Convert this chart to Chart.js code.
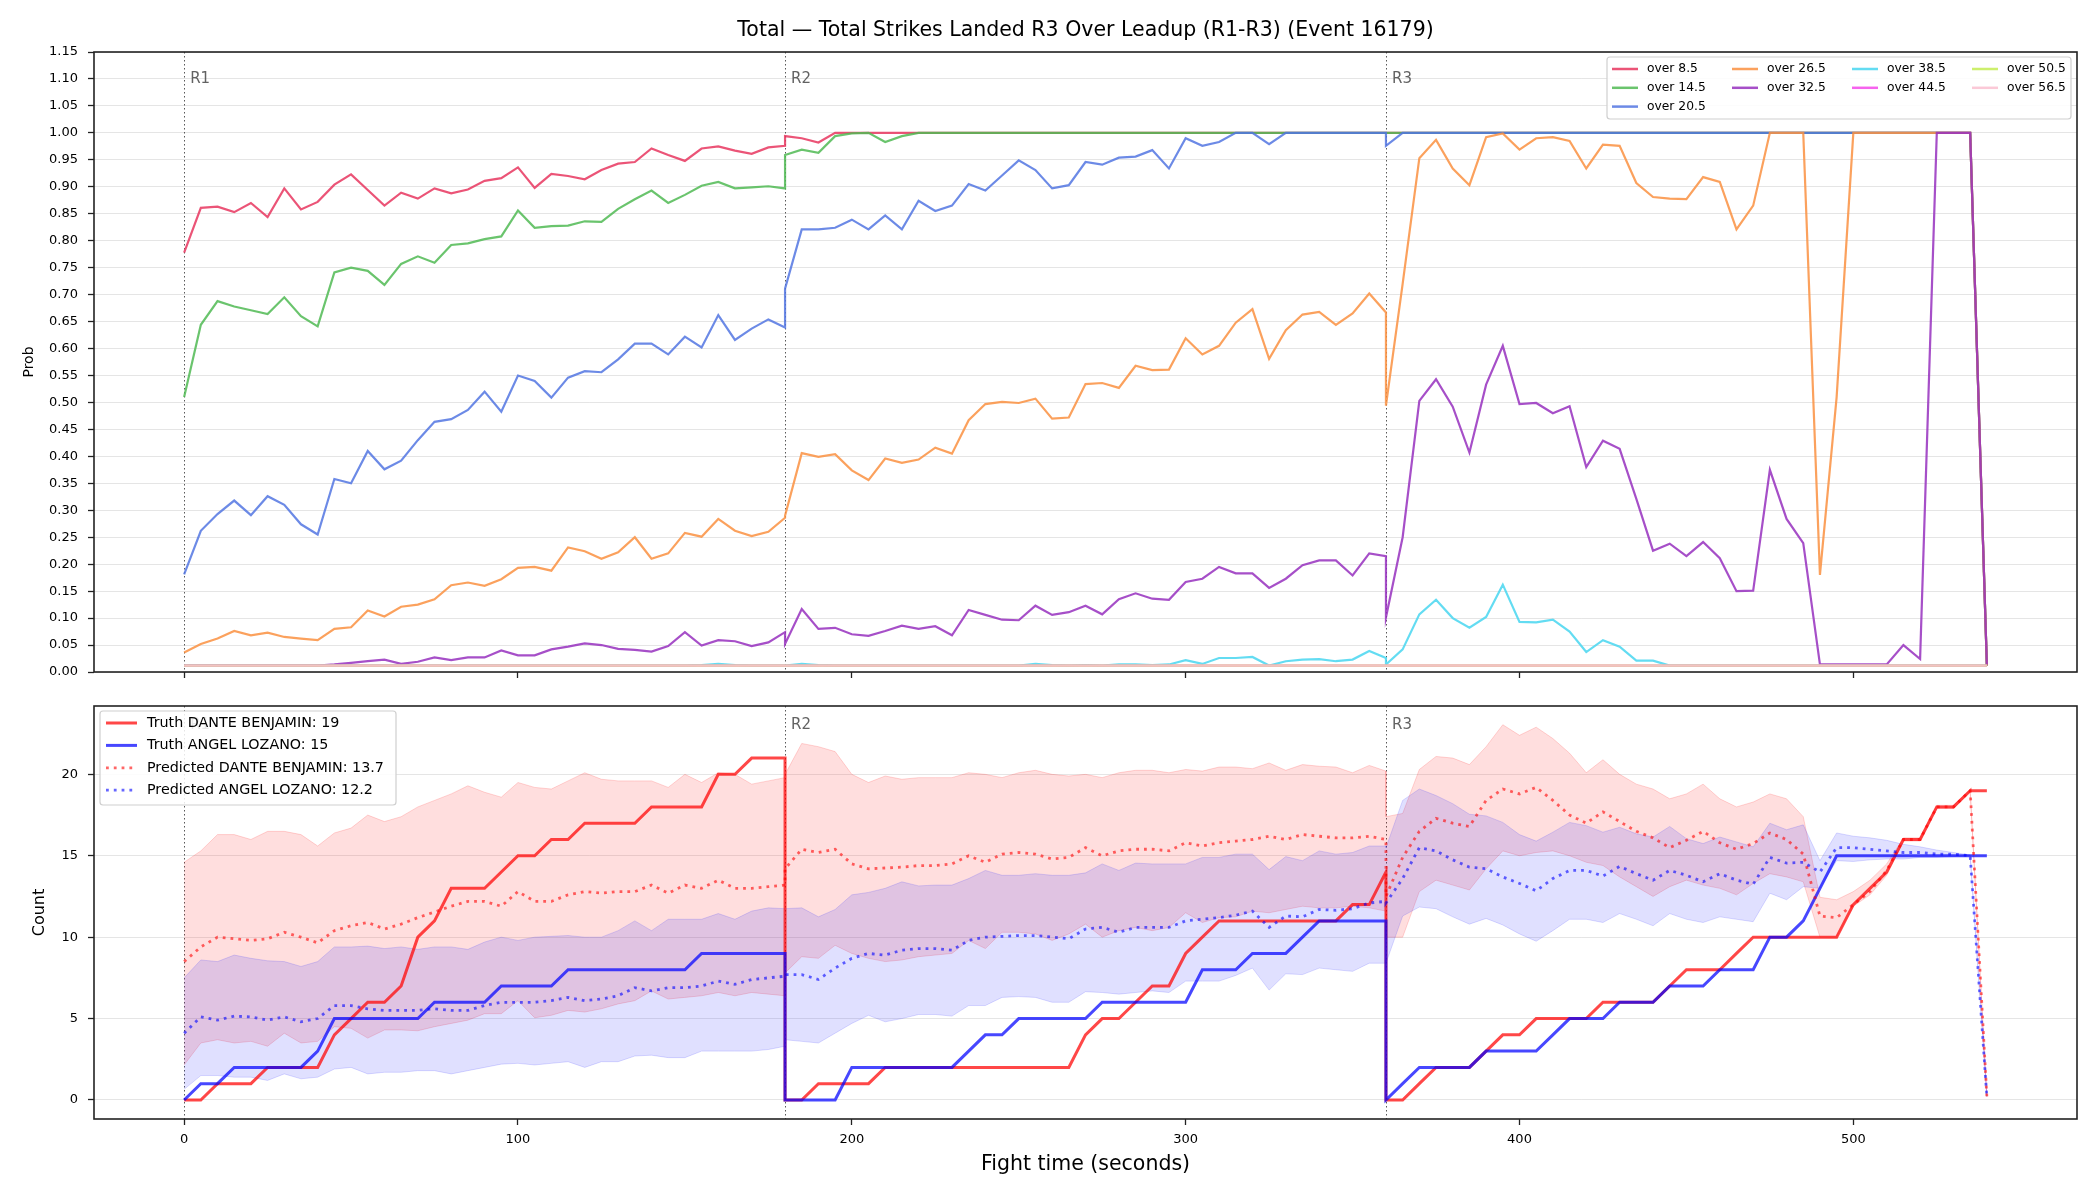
<!DOCTYPE html>
<html>
<head>
<meta charset="utf-8">
<title>Total Strikes Landed R3 Over Leadup</title>
<script src="https://cdn.jsdelivr.net/npm/chart.js@4.4.1/dist/chart.umd.min.js"></script>
<style>
  html, body { margin: 0; padding: 0; background: #fff; }
  #wrap { position: relative; width: 2100px; height: 1200px; }
  #topChart { position: absolute; left: 0; top: 0; }
  #bottomChart { position: absolute; left: 0; top: 686px; }
</style>
</head>
<body>
<div id="wrap">
  <canvas id="topChart" width="2100" height="700"></canvas>
  <canvas id="bottomChart" width="2100" height="514"></canvas>
</div>
<script>
// ---- data (each round sampled every 5 s, 37 points per round) ----
const roundStarts = [0, 180, 360];
const roundLabels = ['R1', 'R2', 'R3'];
const step = 5;
const xTicks = [0, 100, 200, 300, 400, 500];
const probTicks = [0.00, 0.05, 0.10, 0.15, 0.20, 0.25, 0.30, 0.35, 0.40, 0.45, 0.50, 0.55,
                   0.60, 0.65, 0.70, 0.75, 0.80, 0.85, 0.90, 0.95, 1.00, 1.05, 1.10, 1.15];
const countTicks = [0, 5, 10, 15, 20];

const chartTitle = 'Total \u2014 Total Strikes Landed R3 Over Leadup (R1-R3) (Event 16179)';
const fighterA = 'DANTE BENJAMIN';
const fighterB = 'ANGEL LOZANO';
const truthTotalA = 19;
const truthTotalB = 15;
const predTotalA = 13.7;
const predTotalB = 12.2;

// top panel: probability of total going over each line
const over85R1 = [0.778,0.861,0.863,0.853,0.870,0.844,0.897,0.858,0.872,0.904,0.923,0.894,0.865,0.889,0.878,0.897,0.888,0.895,0.911,0.916,0.936,0.898,0.924,0.920,0.914,0.931,0.943,0.946,0.971,0.959,0.948,0.971,0.975,0.967,0.961,0.973,0.976];
const over85R2 = [0.994,0.990,0.982,1,1,1,1,1,1,1,1,1,1,1,1,1,1,1,1,1,1,1,1,1,1,1,1,1,1,1,1,1,1,1,1,1,1];
const over85R3 = [1,1,1,1,1,1,1,1,1,1,1,1,1,1,1,1,1,1,1,1,1,1,1,1,1,1,1,1,1,1,1,1,1,1,1,1,0.012];

const over145R1 = [0.510,0.644,0.688,0.678,0.671,0.664,0.695,0.660,0.641,0.741,0.750,0.744,0.718,0.757,0.771,0.759,0.792,0.795,0.803,0.808,0.856,0.824,0.827,0.828,0.836,0.835,0.859,0.877,0.893,0.870,0.885,0.902,0.909,0.897,0.899,0.901,0.897];
const over145R2 = [0.959,0.969,0.963,0.994,0.999,1,0.983,0.994,1,1,1,1,1,1,1,1,1,1,1,1,1,1,1,1,1,1,1,1,1,1,1,1,1,1,1,1,1];
const over145R3 = [1,1,1,1,1,1,1,1,1,1,1,1,1,1,1,1,1,1,1,1,1,1,1,1,1,1,1,1,1,1,1,1,1,1,1,1,0.012];

const over205R1 = [0.181,0.262,0.293,0.318,0.291,0.326,0.310,0.274,0.255,0.358,0.350,0.410,0.376,0.392,0.430,0.464,0.469,0.486,0.520,0.483,0.550,0.540,0.509,0.546,0.558,0.556,0.580,0.609,0.609,0.589,0.622,0.602,0.662,0.616,0.637,0.654,0.639];
const over205R2 = [0.711,0.821,0.821,0.824,0.839,0.821,0.847,0.821,0.874,0.855,0.865,0.905,0.893,0.921,0.949,0.931,0.897,0.903,0.946,0.941,0.954,0.956,0.968,0.934,0.990,0.976,0.983,1,1,0.979,1,1,1,1,1,1,1];
const over205R3 = [0.976,1,1,1,1,1,1,1,1,1,1,1,1,1,1,1,1,1,1,1,1,1,1,1,1,1,1,1,1,1,1,1,1,1,1,1,0.012];

const over265R1 = [0.036,0.052,0.062,0.076,0.068,0.073,0.065,0.062,0.059,0.080,0.083,0.114,0.103,0.121,0.125,0.135,0.161,0.166,0.160,0.172,0.193,0.195,0.188,0.231,0.224,0.210,0.222,0.250,0.210,0.220,0.258,0.251,0.284,0.262,0.252,0.260,0.286];
const over265R2 = [0.290,0.406,0.399,0.404,0.374,0.356,0.396,0.388,0.394,0.416,0.405,0.467,0.497,0.501,0.499,0.507,0.470,0.472,0.534,0.536,0.527,0.568,0.560,0.561,0.619,0.589,0.605,0.648,0.673,0.581,0.634,0.663,0.668,0.644,0.665,0.702,0.667];
const over265R3 = [0.494,0.720,0.953,0.987,0.934,0.903,0.992,0.999,0.969,0.990,0.992,0.985,0.934,0.978,0.976,0.907,0.881,0.878,0.877,0.918,0.909,0.821,0.865,1,1,1,0.180,0.510,1,1,1,1,1,1,1,1,0.012];

const over325R1 = [0.012,0.012,0.012,0.012,0.012,0.012,0.012,0.012,0.012,0.014,0.017,0.020,0.023,0.015,0.019,0.027,0.022,0.027,0.027,0.040,0.031,0.031,0.042,0.047,0.053,0.050,0.043,0.041,0.038,0.048,0.074,0.049,0.059,0.057,0.048,0.055,0.074];
const over325R2 = [0.052,0.117,0.080,0.082,0.070,0.067,0.076,0.086,0.080,0.085,0.068,0.115,0.106,0.097,0.096,0.123,0.106,0.111,0.123,0.107,0.135,0.146,0.136,0.134,0.167,0.173,0.195,0.183,0.183,0.156,0.173,0.198,0.207,0.207,0.179,0.220,0.215];
const over325R3 = [0.101,0.250,0.503,0.543,0.492,0.407,0.533,0.605,0.497,0.499,0.480,0.493,0.380,0.429,0.414,0.321,0.225,0.238,0.215,0.241,0.211,0.150,0.151,0.375,0.284,0.239,0.014,0.014,0.014,0.014,0.014,0.050,0.024,1,1,1,0.014];

const over385R1 = [0.012,0.012,0.012,0.012,0.012,0.012,0.012,0.012,0.012,0.012,0.012,0.012,0.012,0.012,0.012,0.012,0.012,0.012,0.012,0.012,0.012,0.012,0.012,0.012,0.012,0.012,0.012,0.012,0.012,0.012,0.012,0.013,0.015,0.013,0.012,0.012,0.012];
const over385R2 = [0.012,0.015,0.013,0.012,0.012,0.012,0.012,0.012,0.012,0.012,0.012,0.012,0.012,0.012,0.012,0.015,0.013,0.012,0.013,0.012,0.014,0.014,0.013,0.014,0.022,0.015,0.026,0.026,0.028,0.012,0.020,0.023,0.024,0.020,0.023,0.039,0.026];
const over385R3 = [0.014,0.042,0.107,0.134,0.100,0.082,0.102,0.162,0.093,0.092,0.097,0.075,0.037,0.059,0.047,0.021,0.021,0.012,0.012,0.012,0.012,0.012,0.012,0.012,0.012,0.012,0.012,0.012,0.012,0.012,0.012,0.012,0.012,0.012,0.012,0.012,0.012];

// the three highest lines sit on the floor for the whole fight
const floorRound = [0.012,0.012,0.012,0.012,0.012,0.012,0.012,0.012,0.012,0.012,0.012,0.012,0.012,0.012,0.012,0.012,0.012,0.012,0.012,0.012,0.012,0.012,0.012,0.012,0.012,0.012,0.012,0.012,0.012,0.012,0.012,0.012,0.012,0.012,0.012,0.012,0.012];

// bottom panel: cumulative strikes, truth vs predicted with bands
const truthAR1 = [0,0,1,1,1,2,2,2,2,4,5,6,6,7,10,11,13,13,13,14,15,15,16,16,17,17,17,17,18,18,18,18,20,20,21,21,21];
const truthAR2 = [0,0,1,1,1,1,2,2,2,2,2,2,2,2,2,2,2,2,4,5,5,6,7,7,9,10,11,11,11,11,11,11,11,11,12,12,14];
const truthAR3 = [0,0,1,2,2,2,3,4,4,5,5,5,5,6,6,6,6,7,8,8,8,9,10,10,10,10,10,10,12,13,14,16,16,18,18,19,19];

const truthBR1 = [0,1,1,2,2,2,2,2,3,5,5,5,5,5,5,6,6,6,6,7,7,7,7,8,8,8,8,8,8,8,8,9,9,9,9,9,9];
const truthBR2 = [0,0,0,0,2,2,2,2,2,2,2,3,4,4,5,5,5,5,5,6,6,6,6,6,6,8,8,8,9,9,9,10,11,11,11,11,11];
const truthBR3 = [0,1,2,2,2,2,3,3,3,3,4,5,5,5,6,6,6,7,7,7,8,8,8,10,10,11,13,15,15,15,15,15,15,15,15,15,15];

const predAR1 = [8.5,9.4,10.0,9.9,9.8,9.9,10.3,10.0,9.65,10.4,10.7,10.9,10.5,10.8,11.2,11.55,11.9,12.2,12.2,11.9,12.8,12.2,12.2,12.6,12.8,12.7,12.8,12.8,13.2,12.7,13.2,13.0,13.5,13.0,13.0,13.1,13.2];
const predAR2 = [14.2,15.4,15.2,15.4,14.5,14.2,14.25,14.3,14.4,14.4,14.5,15.0,14.6,15.1,15.2,15.1,14.8,14.9,15.5,15.0,15.3,15.4,15.4,15.3,15.8,15.6,15.8,15.9,16.0,16.2,16.0,16.3,16.2,16.1,16.1,16.2,16.0];
const predAR3 = [12.5,14.9,16.5,17.3,17.0,16.8,18.4,19.1,18.8,19.2,18.4,17.5,17.0,17.7,17.1,16.5,16.1,15.5,15.95,16.5,15.8,15.4,15.75,16.4,16.0,15.1,11.3,11.2,12.0,12.8,14.1,16.0,16.0,18.0,18.0,19.0,0.2];

const predBR1 = [4.1,5.1,4.9,5.15,5.1,4.9,5.1,4.8,5.0,5.8,5.8,5.6,5.5,5.5,5.5,5.6,5.5,5.5,5.8,6.0,6.0,6.0,6.1,6.3,6.1,6.2,6.4,6.9,6.7,6.9,6.9,7.0,7.3,7.1,7.4,7.5,7.6];
const predBR2 = [7.7,7.7,7.4,8.1,8.7,9.0,8.9,9.2,9.3,9.3,9.2,9.8,10.0,10.05,10.1,10.1,10.0,9.9,10.5,10.6,10.3,10.6,10.6,10.6,11.0,11.1,11.2,11.35,11.6,10.6,11.3,11.25,11.7,11.65,11.75,12.1,12.2];
const predBR3 = [12.1,13.6,15.5,15.3,14.75,14.3,14.2,13.7,13.3,12.85,13.6,14.1,14.1,13.75,14.35,13.9,13.5,14.1,13.8,13.4,13.9,13.5,13.25,14.9,14.55,14.6,14.0,15.5,15.5,15.4,15.3,15.2,15.2,15.1,15.1,15.0,0.2];

const bandAHiR1 = [14.6,15.3,16.3,16.3,16.0,16.5,16.5,16.3,15.6,16.4,16.7,17.5,17.1,17.4,18.0,18.4,18.8,19.3,18.9,18.6,19.5,19.2,19.1,19.6,20.1,19.7,19.6,19.6,19.6,19.2,20.0,19.5,20.1,20.0,19.4,19.6,19.8];
const bandAHiR2 = [20.0,21.9,21.7,21.4,20.0,19.5,19.9,19.7,19.8,19.8,19.8,20.1,20.0,19.8,20.1,20.25,20.0,19.9,20.0,19.8,20.1,20.25,20.25,20.1,20.3,20.2,20.45,20.45,20.35,20.7,20.25,20.6,20.5,20.45,20.1,20.55,20.2];
const bandAHiR3 = [17.4,17.6,20.3,21.1,21.0,20.6,21.7,23.05,22.4,22.9,22.2,21.3,20.1,20.9,20.0,19.4,19.1,18.5,18.8,19.4,18.5,18.0,18.3,18.8,18.5,17.4,12.45,12.3,12.8,13.5,14.5,16.1,16.1,18.1,18.1,19.05,0.2];
const bandALoR1 = [2.15,3.5,3.7,3.5,3.6,3.3,4.1,3.5,3.6,4.5,4.4,3.8,4.3,4.3,4.25,4.5,4.7,4.9,5.3,5.3,6.1,5.05,5.2,5.5,5.4,5.6,5.9,6.1,6.7,6.2,6.3,6.4,6.6,6.4,6.6,6.5,6.4];
const bandALoR2 = [7.8,8.8,8.7,9.5,9.0,8.7,8.5,8.6,8.8,8.9,9.0,9.8,9.3,10.3,10.3,10.2,9.8,10.2,10.8,10.0,10.4,10.6,10.4,10.6,11.5,10.9,11.2,11.25,11.6,11.5,11.7,11.9,11.8,11.8,11.9,11.8,11.6];
const bandALoR3 = [10.0,10.0,12.8,13.5,13.2,12.9,14.2,15.3,15.0,15.2,15.3,15.0,14.6,14.4,13.7,13.1,12.5,13.1,13.5,13.2,13.0,12.6,13.3,13.9,13.7,13.4,10.0,10.0,11.9,12.6,13.8,15.9,15.9,17.9,17.9,18.95,0.2];

const bandBHiR1 = [7.5,8.6,8.5,8.9,8.7,8.55,8.5,8.2,8.5,9.4,9.4,9.45,9.3,9.4,9.25,9.4,9.4,9.25,9.7,10.0,9.8,10.0,10.05,10.1,10.0,10.0,10.4,11.0,10.4,11.1,11.1,11.1,11.45,11.1,11.6,11.8,11.75];
const bandBHiR2 = [11.75,11.8,11.25,11.7,12.6,12.75,13.0,13.4,13.15,13.2,13.2,13.6,14.1,13.8,13.8,13.9,13.8,13.8,13.95,14.5,14.1,14.55,14.5,14.5,14.5,14.9,14.9,15.1,15.1,14.15,14.95,14.7,15.3,15.1,15.2,15.6,15.6];
const bandBHiR3 = [15.5,18.4,19.1,18.7,18.2,17.55,17.45,17.05,16.3,15.9,16.45,17.05,16.85,16.45,16.75,16.35,16.15,16.8,16.05,15.75,16.15,15.85,15.55,17.0,16.6,16.9,14.7,16.4,16.2,16.1,15.95,15.7,15.55,15.35,15.2,15.05,0.2];
const bandBLoR1 = [0.65,1.5,1.5,1.4,1.4,1.2,1.6,1.3,1.4,1.9,2.0,1.6,1.7,1.7,1.8,1.8,1.6,1.8,2.0,2.2,2.25,2.15,2.25,2.35,2.0,2.35,2.35,2.7,2.75,2.6,2.6,3.0,3.0,3.0,3.0,3.1,3.3];
const bandBLoR2 = [3.7,3.6,3.5,4.1,4.7,5.2,4.8,5.0,5.25,5.25,5.15,5.8,5.8,6.3,6.35,6.3,6.0,6.0,6.65,6.6,6.5,6.6,6.7,6.6,7.3,7.3,7.3,7.65,8.1,6.75,7.75,7.7,8.1,8.0,7.9,8.4,8.4];
const bandBLoR3 = [8.4,11.3,11.85,11.75,11.25,10.8,11.15,10.75,10.2,9.75,10.4,11.1,11.1,10.9,11.45,11.1,10.7,11.45,11.1,10.9,11.25,11.1,10.95,12.7,12.3,13.1,13.0,14.7,14.65,14.75,14.8,14.8,14.9,14.9,14.95,15.0,0.2];

// ---- helpers ----
function joinRounds(r1, r2, r3) {
    const pts = [];
    [r1, r2, r3].forEach((vals, r) => {
        vals.forEach((v, i) => pts.push({ x: roundStarts[r] + i * step, y: v }));
    });
    return pts;
}

const FONT = 'DejaVu Sans, Liberation Sans, sans-serif';

// dotted round separators + R labels
function roundMarks(labelY) {
    return {
        id: 'roundMarks',
        beforeDatasetsDraw(chart) {
            const { ctx, chartArea: a, scales } = chart;
            ctx.save();
            ctx.strokeStyle = 'rgba(70,70,70,0.9)';
            ctx.lineWidth = 1;
            ctx.setLineDash([1.5, 2.5]);
            roundStarts.forEach(t => {
                const px = Math.round(scales.x.getPixelForValue(t)) + 0.5;
                ctx.beginPath();
                ctx.moveTo(px, a.top);
                ctx.lineTo(px, a.bottom);
                ctx.stroke();
            });
            ctx.restore();
        },
        afterDatasetsDraw(chart) {
            const { ctx, scales } = chart;
            ctx.save();
            ctx.fillStyle = 'rgba(70,70,70,0.85)';
            ctx.font = '15px ' + FONT;
            ctx.textBaseline = 'middle';
            roundStarts.forEach((t, i) => {
                ctx.fillText(roundLabels[i], scales.x.getPixelForValue(t) + 6, scales.y.getPixelForValue(labelY));
            });
            ctx.restore();
        }
    };
}

function drawFrame(chart) {
    const { ctx, chartArea: a } = chart;
    ctx.save();
    ctx.strokeStyle = '#222';
    ctx.lineWidth = 1.6;
    ctx.strokeRect(a.left, a.top, a.right - a.left, a.bottom - a.top);
    ctx.restore();
}

function legendBox(ctx, x, y, w, h) {
    ctx.fillStyle = 'rgba(255,255,255,0.85)';
    ctx.strokeStyle = '#cfcfcf';
    ctx.lineWidth = 1.2;
    ctx.beginPath();
    ctx.roundRect(x, y, w, h, 3);
    ctx.fill();
    ctx.stroke();
}

// ---- top panel ----
const topSeries = [
    { label: 'over 8.5',  color: 'rgba(232,54,95,0.85)',  rounds: [over85R1, over85R2, over85R3] },
    { label: 'over 14.5', color: 'rgba(80,186,84,0.85)',  rounds: [over145R1, over145R2, over145R3] },
    { label: 'over 20.5', color: 'rgba(82,118,226,0.85)', rounds: [over205R1, over205R2, over205R3] },
    { label: 'over 26.5', color: 'rgba(250,145,65,0.85)', rounds: [over265R1, over265R2, over265R3] },
    { label: 'over 32.5', color: 'rgba(150,48,190,0.85)', rounds: [over325R1, over325R2, over325R3] },
    { label: 'over 38.5', color: 'rgba(72,214,240,0.85)', rounds: [over385R1, over385R2, over385R3] },
    { label: 'over 44.5', color: 'rgba(245,72,235,0.85)', rounds: [floorRound, floorRound, floorRound] },
    { label: 'over 50.5', color: 'rgba(196,236,84,0.85)', rounds: [floorRound, floorRound, floorRound] },
    { label: 'over 56.5', color: 'rgba(250,192,208,0.85)', rounds: [floorRound, floorRound, floorRound] }
];

const topDatasets = topSeries.map((s, i) => ({
    label: s.label,
    data: joinRounds(s.rounds[0], s.rounds[1], s.rounds[2]),
    borderColor: s.color,
    borderWidth: 2.2,
    fill: false,
    order: -i
}));

const topDecor = {
    id: 'topDecor',
    afterDraw(chart) {
        const { ctx, chartArea: a } = chart;
        drawFrame(chart);
        ctx.save();
        // title
        ctx.fillStyle = '#000';
        ctx.font = '20.5px ' + FONT;
        ctx.textAlign = 'center';
        ctx.textBaseline = 'middle';
        ctx.fillText(chartTitle, (a.left + a.right) / 2, 31);
        // legend, 4 columns filled column-wise
        const bx = a.right - 470, by = a.top + 5, bw = 464, bh = 62;
        legendBox(ctx, bx, by, bw, bh);
        const colSizes = [3, 2, 2, 2];
        let k = 0;
        ctx.font = '12.3px ' + FONT;
        ctx.textAlign = 'left';
        colSizes.forEach((n, c) => {
            for (let r = 0; r < n; r++, k++) {
                const s = topSeries[k];
                const lx = bx + 5 + c * 120, ly = by + 12 + r * 18.8;
                ctx.strokeStyle = s.color;
                ctx.lineWidth = 2.5;
                ctx.beginPath();
                ctx.moveTo(lx, ly);
                ctx.lineTo(lx + 26, ly);
                ctx.stroke();
                ctx.fillStyle = '#000';
                ctx.fillText(s.label, lx + 35, ly);
            }
        });
        ctx.restore();
    }
};

new Chart(document.getElementById('topChart'), {
    type: 'line',
    data: { datasets: topDatasets },
    options: {
        responsive: false,
        animation: false,
        devicePixelRatio: 1,
        layout: { padding: { top: 52, right: 23, left: 0, bottom: 0 } },
        elements: { point: { radius: 0 }, line: { tension: 0 } },
        plugins: { legend: { display: false }, tooltip: { enabled: false } },
        scales: {
            x: {
                type: 'linear', min: -27, max: 567,
                afterFit: s => { s.height = 28; },
                afterBuildTicks: s => { s.ticks = xTicks.map(v => ({ value: v })); },
                ticks: { callback: () => '' },
                grid: { drawOnChartArea: false, tickLength: 6, tickColor: '#222', tickWidth: 1.3 },
                border: { display: false }
            },
            y: {
                min: 0, max: 1.15,
                afterFit: s => { s.width = 94; },
                afterBuildTicks: s => { s.ticks = probTicks.map(v => ({ value: v })); },
                ticks: { callback: v => v.toFixed(2), color: '#000', padding: 10, font: { family: FONT, size: 13 } },
                grid: { color: 'rgba(0,0,0,0.1)', tickLength: 6, tickColor: '#222', tickWidth: 1.3 },
                border: { display: false },
                title: { display: true, text: 'Prob', color: '#000', font: { family: FONT, size: 14 }, padding: { top: 21, bottom: 0 } }
            }
        }
    },
    plugins: [roundMarks(1.10), topDecor]
});

// ---- bottom panel ----
const redBorder = 'rgba(255,0,0,0.16)';
const blueBorder = 'rgba(0,0,255,0.14)';
const bottomDatasets = [
    { label: 'bandALo', data: joinRounds(bandALoR1, bandALoR2, bandALoR3), borderColor: redBorder, borderWidth: 1, fill: false },
    { label: 'bandAHi', data: joinRounds(bandAHiR1, bandAHiR2, bandAHiR3), borderColor: redBorder, borderWidth: 1, fill: '-1', backgroundColor: 'rgba(255,0,0,0.13)' },
    { label: 'bandBLo', data: joinRounds(bandBLoR1, bandBLoR2, bandBLoR3), borderColor: blueBorder, borderWidth: 1, fill: false },
    { label: 'bandBHi', data: joinRounds(bandBHiR1, bandBHiR2, bandBHiR3), borderColor: blueBorder, borderWidth: 1, fill: '-1', backgroundColor: 'rgba(0,0,255,0.12)' },
    { label: 'Truth ' + fighterA + ': ' + truthTotalA, data: joinRounds(truthAR1, truthAR2, truthAR3), borderColor: 'rgba(255,0,0,0.72)', borderWidth: 3, fill: false },
    { label: 'Truth ' + fighterB + ': ' + truthTotalB, data: joinRounds(truthBR1, truthBR2, truthBR3), borderColor: 'rgba(0,0,255,0.72)', borderWidth: 3, fill: false },
    { label: 'Predicted ' + fighterA + ': ' + predTotalA, data: joinRounds(predAR1, predAR2, predAR3), borderColor: 'rgba(255,0,0,0.6)', borderWidth: 2.8, borderDash: [2.8, 5], fill: false },
    { label: 'Predicted ' + fighterB + ': ' + predTotalB, data: joinRounds(predBR1, predBR2, predBR3), borderColor: 'rgba(0,0,255,0.6)', borderWidth: 2.8, borderDash: [2.8, 5], fill: false }
];
bottomDatasets.forEach((d, i) => { d.order = -i; });

const bottomDecor = {
    id: 'bottomDecor',
    afterDraw(chart) {
        const { ctx, chartArea: a } = chart;
        drawFrame(chart);
        ctx.save();
        const bx = a.left + 6, by = a.top + 5, bw = 296, bh = 94;
        legendBox(ctx, bx, by, bw, bh);
        ctx.font = '14.3px ' + FONT;
        ctx.textBaseline = 'middle';
        bottomDatasets.slice(4).forEach((d, i) => {
            const ly = by + 12 + i * 22.4, lx = bx + 6;
            ctx.strokeStyle = d.borderColor;
            ctx.lineWidth = d.borderWidth;
            ctx.setLineDash(d.borderDash || []);
            ctx.beginPath();
            ctx.moveTo(lx, ly);
            ctx.lineTo(lx + 31, ly);
            ctx.stroke();
            ctx.setLineDash([]);
            ctx.fillStyle = '#000';
            ctx.fillText(d.label, lx + 41, ly);
        });
        ctx.restore();
    }
};

new Chart(document.getElementById('bottomChart'), {
    type: 'line',
    data: { datasets: bottomDatasets },
    options: {
        responsive: false,
        animation: false,
        devicePixelRatio: 1,
        layout: { padding: { top: 20, right: 23, left: 0, bottom: 0 } },
        elements: { point: { radius: 0 }, line: { tension: 0 } },
        plugins: { legend: { display: false }, tooltip: { enabled: false } },
        scales: {
            x: {
                type: 'linear', min: -27, max: 567,
                afterFit: s => { s.height = 81; },
                afterBuildTicks: s => { s.ticks = xTicks.map(v => ({ value: v })); },
                ticks: { color: '#000', padding: 7, maxRotation: 0, font: { family: FONT, size: 13 } },
                grid: { drawOnChartArea: false, tickLength: 6, tickColor: '#222', tickWidth: 1.3 },
                border: { display: false },
                title: { display: true, text: 'Fight time (seconds)', color: '#000', font: { family: FONT, size: 20.5 }, padding: { top: 0, bottom: 23 } }
            },
            y: {
                min: -1.17, max: 24.2,
                afterFit: s => { s.width = 94; },
                afterBuildTicks: s => { s.ticks = countTicks.map(v => ({ value: v })); },
                ticks: { color: '#000', padding: 10, font: { family: FONT, size: 13 } },
                grid: { color: 'rgba(0,0,0,0.1)', tickLength: 6, tickColor: '#222', tickWidth: 1.3 },
                border: { display: false },
                title: { display: true, text: 'Count', color: '#000', font: { family: FONT, size: 16 }, padding: { top: 30, bottom: 0 } }
            }
        }
    },
    plugins: [roundMarks(23), bottomDecor]
});
</script>
</body>
</html>
